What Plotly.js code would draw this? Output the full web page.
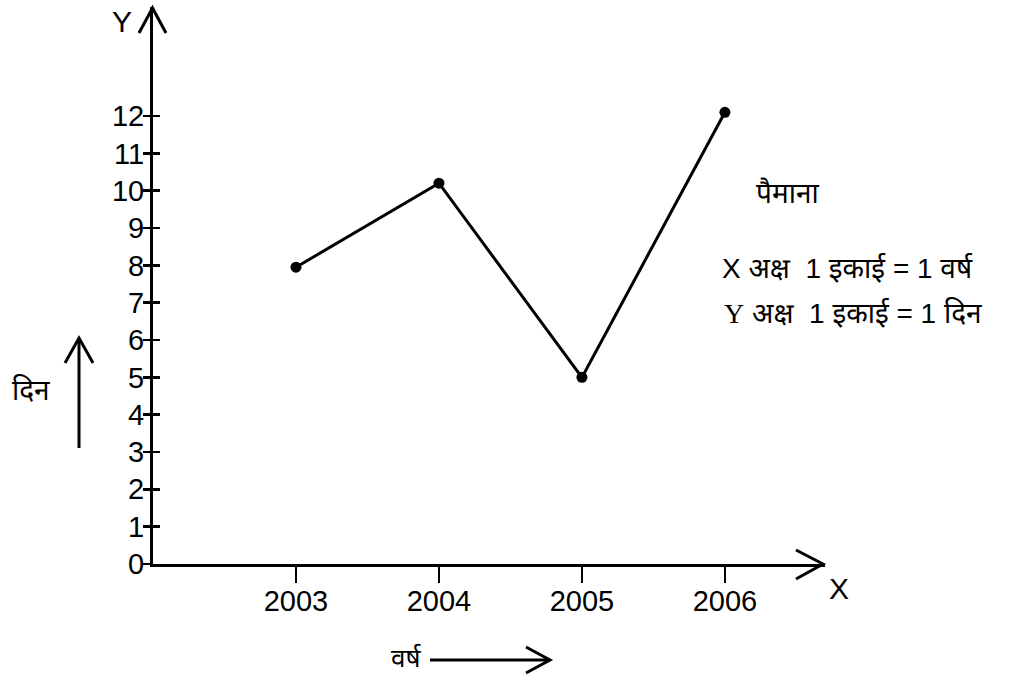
<!DOCTYPE html>
<html>
<head>
<meta charset="utf-8">
<script src="https://cdn.plot.ly/plotly-3.0.1.min.js"></script>
<style>html,body{margin:0;padding:0;background:#fff;}#chart{width:1029px;height:679px;}</style>
</head>
<body>
<div id="chart"></div>
<script>
// ---- data ----
const years = [2003, 2004, 2005, 2006];
const days = [7.95, 10.2, 5.0, 12.1];
const xTickVals = [2003, 2004, 2005, 2006];
const xTickText = ['2003', '2004', '2005', '2006'];
const yTickVals = [0, 1, 2, 3, 4, 5, 6, 7, 8, 9, 10, 11, 12];
const yTickText = ['0', '1', '2', '3', '4', '5', '6', '7', '8', '9', '10', '11', '12'];
const xAxisName = 'X';
const yAxisName = 'Y';
const xLabel = 'वर्ष';
const yLabel = 'दिन';
const scaleTitle = 'पैमाना';
const scaleXLetter = 'X';
const scaleXRest = ' अक्ष  1 इकाई = 1 वर्ष';
const scaleYLetter = 'Y';
const scaleYRest = ' अक्ष  1 इकाई = 1 दिन';

// ---- layout geometry (pixels) ----
const W = 1029, H = 679;
const L = 153, T = 7, PW = 672, PH = 557;
const px = x => (x - L) / PW;          // pixel x -> paper
const py = y => (T + PH - y) / PH;      // pixel y -> paper
const SANS = 'Liberation Sans, Arial, sans-serif';
const DEVA = 'Liberation Sans, Noto Sans Devanagari, Lohit Devanagari, FreeSans, sans-serif';

const trace = {
  x: years, y: days, type: 'scatter', mode: 'lines+markers',
  line: {color: '#000', width: 3},
  marker: {color: '#000', size: 11},
  hoverinfo: 'skip', showlegend: false, cliponaxis: false
};

function path(pts) {
  return 'M ' + pts.map(p => px(p[0]) + ' ' + py(p[1])).join(' L ');
}
const arrowLine = {color: '#000', width: 3};
const shapes = [
  {type: 'path', xref: 'paper', yref: 'paper', path: path([[139, 33], [152.5, 8], [166, 33]]), line: arrowLine},
  {type: 'path', xref: 'paper', yref: 'paper', path: path([[796, 550], [823, 564], [796, 579]]), line: arrowLine},
  {type: 'path', xref: 'paper', yref: 'paper', path: path([[79, 448], [79, 338]]), line: arrowLine},
  {type: 'path', xref: 'paper', yref: 'paper', path: path([[65, 363], [79, 338], [93, 363]]), line: arrowLine},
  {type: 'path', xref: 'paper', yref: 'paper', path: path([[430, 660], [550, 660]]), line: arrowLine},
  {type: 'path', xref: 'paper', yref: 'paper', path: path([[526, 647], [550, 660], [526, 673]]), line: arrowLine}
];

function ann(text, x, y, size, family, xanchor) {
  return {text: text, x: px(x), y: py(y), xref: 'paper', yref: 'paper',
    xanchor: xanchor || 'center', yanchor: 'middle', showarrow: false,
    font: {family: family, size: size, color: '#000'}};
}
const annotations = [
  ann(yAxisName, 122, 22, 30, SANS),
  ann(xAxisName, 839, 588, 30, SANS),
  ann(scaleTitle, 787, 193, 28, DEVA),
  ann('<span style="font-family:Liberation Sans">' + scaleXLetter + '</span>' + scaleXRest, 720, 268, 28, DEVA, 'left'),
  ann('<span style="font-family:Liberation Serif">' + scaleYLetter + '</span>' + scaleYRest, 722, 313, 28, DEVA, 'left'),
  ann(yLabel, 31, 390, 28, DEVA),
  ann(xLabel, 406, 658, 26, DEVA)
];

const layout = {
  width: W, height: H,
  margin: {l: L, r: W - L - PW, t: T, b: H - T - PH, pad: 0},
  paper_bgcolor: '#fff', plot_bgcolor: '#fff',
  showlegend: false,
  xaxis: {
    range: [2002, 2006.7], showgrid: false, zeroline: false,
    showline: true, linecolor: '#000', linewidth: 3,
    tickmode: 'array', tickvals: xTickVals, ticktext: xTickText,
    ticks: 'outside', ticklen: 16, tickwidth: 2.5, tickcolor: '#000',
    ticklabelstandoff: -7,
    tickfont: {family: SANS, size: 29, color: '#000'}, fixedrange: true
  },
  yaxis: {
    range: [0, PH / 37.33], showgrid: false, zeroline: false,
    showline: true, linecolor: '#000', linewidth: 3,
    tickmode: 'array', tickvals: yTickVals, ticktext: yTickText,
    ticks: 'outside', ticklen: 7, tickwidth: 2.5, tickcolor: '#000',
    ticklabelstandoff: -7,
    tickfont: {family: SANS, size: 29, color: '#000'}, fixedrange: true
  },
  yaxis2: {
    overlaying: 'y', side: 'left', range: [0, PH / 37.33], showgrid: false, zeroline: false,
    tickmode: 'array', tickvals: yTickVals, showticklabels: false,
    ticks: 'inside', ticklen: 7, tickwidth: 2.5, tickcolor: '#000', fixedrange: true
  },
  shapes: shapes,
  annotations: annotations
};

const tickHelper = {x: [2002], y: [0], yaxis: 'y2', type: 'scatter', mode: 'markers', marker: {opacity: 0}, hoverinfo: 'skip', showlegend: false};

Plotly.newPlot('chart', [trace, tickHelper], layout, {displayModeBar: false, staticPlot: true});
</script>
</body>
</html>
